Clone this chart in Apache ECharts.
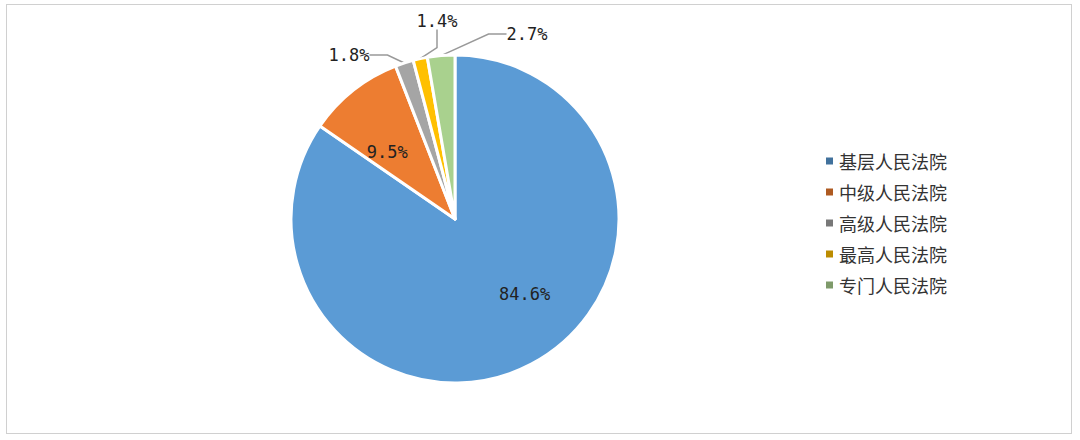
<!DOCTYPE html>
<html><head><meta charset="utf-8">
<script src="https://cdn.jsdelivr.net/npm/echarts@6/dist/echarts.min.js"></script>
<style>
html,body{margin:0;padding:0;background:#fff}
#c{position:absolute;left:6px;top:4px;width:1066px;height:430px;border:1px solid #d0d0d0;box-sizing:border-box}
</style></head>
<body><div id="c"></div>
<script>
var names = ['基层人民法院', '中级人民法院', '高级人民法院', '最高人民法院', '专门人民法院'];
var values = [84.6, 9.5, 1.8, 1.4, 2.7];
var colors = ['#5b9bd5', '#ed7d31', '#a5a5a5', '#ffc000', '#a9d18e'];
var legendColors = ['#41719c', '#ae5a21', '#787878', '#bc8c00', '#7e9a6a'];
var inside = [true, true, false, false, false];
// outer label anchor spots (label placement only, marks come from the pie scale)
var labelSpots = { 2: [342, 50, 'center'], 3: [430, 16, 'center'], 4: [520, 29, 'center'] };

var chart = echarts.init(document.getElementById('c'), null, { renderer: 'svg' });
chart.setOption({
  animation: false,
  legend: {
    orient: 'vertical', left: 812, top: 142,
    itemWidth: 9, itemHeight: 9, itemGap: 13, icon: 'rect',
    textStyle: { color: '#333', fontSize: 18, fontFamily: 'Noto Sans CJK SC' },
    data: names.map(function(n, i) { return { name: n, itemStyle: { color: legendColors[i] } }; })
  },
  series: [{
    type: 'pie',
    center: [448, 214], radius: 164, startAngle: 90,
    itemStyle: { borderColor: '#fff', borderWidth: 3 },
    labelLine: { length: 12, length2: 18, lineStyle: { color: '#999', width: 1.5 } },
    label: { fontSize: 17, color: '#222', fontFamily: 'DejaVu Sans Mono',
      formatter: function(p) { return p.value.toFixed(1) + '%'; } },
    labelLayout: function(p) {
      var s = labelSpots[p.dataIndex];
      if (!s) return {};
      return { x: s[0], y: s[1], align: s[2], verticalAlign: 'middle' };
    },
    data: names.map(function(n, i) {
      var d = { name: n, value: values[i], itemStyle: { color: colors[i] } };
      if (inside[i]) d.label = { position: 'inside' };
      if (i === 0) d.label.padding = [150, 0, 0, 60];
      if (i === 1) d.label.padding = [0, 30, 60, 0];
      return d;
    })
  }]
});
</script></body></html>
